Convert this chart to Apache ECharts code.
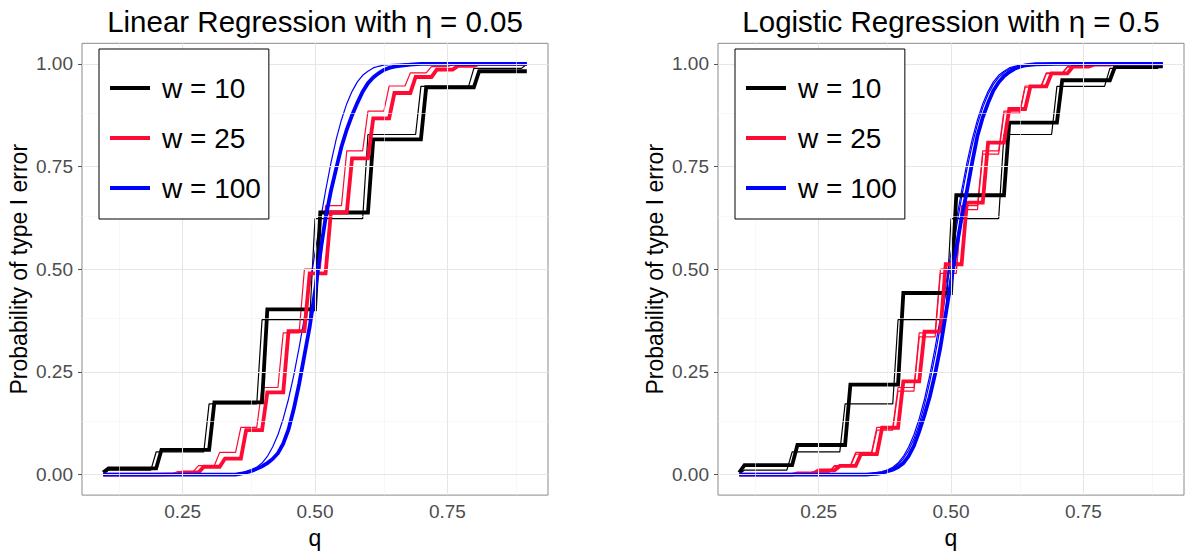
<!DOCTYPE html>
<html>
<head>
<meta charset="utf-8">
<script src="https://cdn.jsdelivr.net/npm/echarts@6/dist/echarts.min.js"></script>
<style>
  html, body { margin: 0; padding: 0; background: #fff; }
  #chart { width: 1185px; height: 554px; }
</style>
</head>
<body>
<div id="chart"></div>
<script>
// ---- axis ticks, labels and titles ----
const panelTitles = ['Linear Regression with \u03b7 = 0.05', 'Logistic Regression with \u03b7 = 0.5'];
const legendNames = ['w = 10', 'w = 25', 'w = 100'];
const qMajor = [0.25, 0.5, 0.75];
const qMinor = [0.125, 0.375, 0.625, 0.875];
const pMajor = [0, 0.25, 0.5, 0.75, 1];
const pMinor = [0.125, 0.375, 0.625, 0.875];
const xTitle = 'q';
const yTitle = 'Probability of type I error';

// ---- reference curves (thin lines), shared by both panels ----
const refW10 = [[0.10,0.001],[0.11,0.011],[0.19,0.011],[0.20,0.055],[0.29,0.055],[0.30,0.172],[0.39,0.172],[0.40,0.377],[0.49,0.377],[0.50,0.623],[0.59,0.623],[0.60,0.828],[0.69,0.828],[0.70,0.945],[0.79,0.945],[0.80,0.989],[0.89,0.989],[0.90,0.999]];
const refW25 = [[0.10,0.000],[0.19,0.0005],[0.20,0.002],[0.23,0.002],[0.24,0.007],[0.27,0.007],[0.28,0.022],[0.31,0.022],[0.32,0.054],[0.35,0.054],[0.36,0.115],[0.39,0.115],[0.40,0.212],[0.43,0.212],[0.44,0.345],[0.47,0.345],[0.48,0.500],[0.51,0.500],[0.52,0.655],[0.55,0.655],[0.56,0.788],[0.59,0.788],[0.60,0.885],[0.63,0.885],[0.64,0.946],[0.67,0.946],[0.68,0.978],[0.71,0.978],[0.72,0.993],[0.75,0.993],[0.76,0.998],[0.79,0.998],[0.80,1.000],[0.90,1.000]];
const refW100 = [[0.10,0.000],[0.30,0.000],[0.33,0.0004],[0.34,0.001],[0.35,0.002],[0.36,0.003],[0.37,0.006],[0.38,0.011],[0.39,0.018],[0.40,0.028],[0.41,0.044],[0.42,0.067],[0.43,0.097],[0.44,0.136],[0.45,0.184],[0.46,0.242],[0.47,0.309],[0.48,0.382],[0.49,0.460],[0.50,0.540],[0.51,0.618],[0.52,0.691],[0.53,0.758],[0.54,0.816],[0.55,0.864],[0.56,0.903],[0.57,0.933],[0.58,0.956],[0.59,0.972],[0.60,0.982],[0.61,0.990],[0.62,0.994],[0.63,0.997],[0.64,0.998],[0.65,0.999],[0.67,1.000],[0.90,1.000]];

// ---- linear regression, eta = 0.05 (thick lines) ----
const linW10 = [[0.10,0.005],[0.11,0.015],[0.20,0.015],[0.21,0.060],[0.30,0.060],[0.31,0.176],[0.40,0.176],[0.41,0.402],[0.50,0.402],[0.51,0.638],[0.60,0.638],[0.61,0.816],[0.70,0.816],[0.71,0.943],[0.80,0.943],[0.81,0.982],[0.90,0.982]];
const linW25 = [[0.10,0.000],[0.20,0.000],[0.24,0.001],[0.25,0.005],[0.28,0.005],[0.29,0.019],[0.32,0.019],[0.33,0.039],[0.36,0.039],[0.37,0.108],[0.40,0.108],[0.41,0.200],[0.44,0.200],[0.45,0.349],[0.48,0.349],[0.49,0.490],[0.52,0.490],[0.53,0.638],[0.56,0.638],[0.57,0.770],[0.60,0.770],[0.61,0.867],[0.64,0.867],[0.65,0.929],[0.68,0.929],[0.69,0.968],[0.72,0.968],[0.73,0.986],[0.76,0.986],[0.77,0.995],[0.80,0.995],[0.81,1.000],[0.90,1.000]];
const linW100 = [[0.10,0.000],[0.35,0.000],[0.36,0.002],[0.37,0.005],[0.38,0.009],[0.39,0.014],[0.40,0.020],[0.41,0.028],[0.42,0.038],[0.43,0.052],[0.44,0.075],[0.45,0.110],[0.46,0.160],[0.47,0.220],[0.48,0.290],[0.49,0.360],[0.50,0.446],[0.51,0.540],[0.52,0.625],[0.53,0.690],[0.54,0.745],[0.55,0.798],[0.56,0.840],[0.57,0.875],[0.58,0.905],[0.59,0.932],[0.60,0.953],[0.61,0.967],[0.62,0.977],[0.63,0.985],[0.64,0.990],[0.65,0.993],[0.66,0.995],[0.68,0.998],[0.70,1.000],[0.90,1.000]];

// ---- logistic regression, eta = 0.5 (thick lines) ----
const logW10 = [[0.10,0.005],[0.11,0.023],[0.20,0.023],[0.21,0.072],[0.30,0.072],[0.31,0.219],[0.40,0.219],[0.41,0.442],[0.50,0.442],[0.51,0.680],[0.60,0.680],[0.61,0.857],[0.70,0.857],[0.71,0.960],[0.80,0.960],[0.81,0.994],[0.90,0.994]];
const logW25 = [[0.10,0.000],[0.20,0.000],[0.21,0.003],[0.24,0.003],[0.25,0.010],[0.28,0.010],[0.29,0.021],[0.32,0.021],[0.33,0.050],[0.36,0.050],[0.37,0.114],[0.40,0.114],[0.41,0.227],[0.44,0.227],[0.45,0.348],[0.48,0.348],[0.49,0.512],[0.52,0.512],[0.53,0.662],[0.56,0.662],[0.57,0.808],[0.60,0.808],[0.61,0.890],[0.64,0.890],[0.65,0.945],[0.68,0.945],[0.69,0.977],[0.72,0.977],[0.73,0.993],[0.76,0.993],[0.77,0.998],[0.80,0.998],[0.81,1.000],[0.90,1.000]];
const logW100 = [[0.10,0.000],[0.34,0.000],[0.35,0.001],[0.36,0.002],[0.37,0.004],[0.38,0.008],[0.39,0.012],[0.40,0.018],[0.41,0.028],[0.42,0.045],[0.43,0.070],[0.44,0.105],[0.45,0.145],[0.46,0.190],[0.47,0.245],[0.48,0.310],[0.49,0.390],[0.50,0.470],[0.51,0.550],[0.52,0.625],[0.53,0.690],[0.54,0.760],[0.55,0.825],[0.56,0.870],[0.57,0.905],[0.58,0.935],[0.59,0.955],[0.60,0.970],[0.61,0.980],[0.62,0.988],[0.63,0.993],[0.64,0.996],[0.66,0.999],[0.70,1.000],[0.90,1.000]];
// second reference curves in the logistic panel
const logRefW25 = [[0.10,0.000],[0.20,0.002],[0.23,0.002],[0.24,0.006],[0.27,0.006],[0.28,0.020],[0.31,0.020],[0.32,0.050],[0.35,0.050],[0.36,0.108],[0.39,0.108],[0.40,0.203],[0.43,0.203],[0.44,0.335],[0.47,0.335],[0.48,0.490],[0.51,0.490],[0.52,0.645],[0.55,0.645],[0.56,0.780],[0.59,0.780],[0.60,0.880],[0.63,0.880],[0.64,0.943],[0.67,0.943],[0.68,0.976],[0.71,0.976],[0.72,0.992],[0.75,0.992],[0.76,0.998],[0.79,0.998],[0.80,1.000],[0.90,1.000]];
const logRefW100 = [[0.10,0.000],[0.33,0.000],[0.35,0.001],[0.36,0.003],[0.37,0.005],[0.38,0.009],[0.39,0.015],[0.40,0.025],[0.41,0.039],[0.42,0.059],[0.43,0.087],[0.44,0.123],[0.45,0.170],[0.46,0.226],[0.47,0.290],[0.48,0.362],[0.49,0.440],[0.50,0.520],[0.51,0.600],[0.52,0.675],[0.53,0.743],[0.54,0.802],[0.55,0.853],[0.56,0.894],[0.57,0.926],[0.58,0.950],[0.59,0.967],[0.60,0.979],[0.61,0.987],[0.62,0.992],[0.63,0.995],[0.64,0.997],[0.65,0.999],[0.67,1.000],[0.90,1.000]];

const COLORS = { 'w = 10': '#000000', 'w = 25': '#ff0a33', 'w = 100': '#0000ff' };
const FONT = 'Liberation Sans, Arial, Helvetica, sans-serif';

const panels = [
  { left: 82,  titleX: 315, thick: [linW10, linW25, linW100], thin: [[refW10], [refW25], [refW100]] },
  { left: 718, titleX: 951, thick: [logW10, logW25, logW100], thin: [[refW10], [refW25, logRefW25], [refW100, logRefW100]] }
];
const GRID_TOP = 43.3, GRID_H = 455.4, GRID_W = 466;

const grids = [], xAxes = [], yAxes = [], series = [], legends = [], graphics = [];

panels.forEach((p, i) => {
  grids.push({ left: p.left, top: GRID_TOP, width: GRID_W, height: GRID_H, show: true,
    borderColor: '#8a8a8a', borderWidth: 1, backgroundColor: '#ffffff', containLabel: false });
  xAxes.push({
    type: 'value', gridIndex: i, min: 0.06, max: 0.94,
    name: xTitle, nameLocation: 'middle', nameGap: 24,
    nameTextStyle: { fontSize: 23, color: '#000', fontFamily: FONT },
    axisLine: { show: false },
    axisTick: { show: true, length: 4, customValues: qMajor, lineStyle: { color: '#555', width: 1 } },
    axisLabel: { customValues: qMajor, margin: 7, fontSize: 19, color: '#4d4d4d', fontFamily: FONT,
      formatter: v => v.toFixed(2) },
    splitLine: { show: false }
  });
  yAxes.push({
    type: 'value', gridIndex: i, min: -0.05, max: 1.05,
    name: yTitle, nameLocation: 'middle', nameRotate: 90, nameGap: 52,
    nameTextStyle: { fontSize: 23, color: '#000', fontFamily: FONT },
    axisLine: { show: false },
    axisTick: { show: true, length: 4, customValues: pMajor, lineStyle: { color: '#555', width: 1 } },
    axisLabel: { customValues: pMajor, margin: 9, fontSize: 19, color: '#4d4d4d', fontFamily: FONT,
      formatter: v => v.toFixed(2) },
    splitLine: { show: false }
  });

  // panel grid lines
  const major = { color: '#e6e6e6', width: 1.1, type: 'solid' };
  const minor = { color: '#f3f3f3', width: 0.6, type: 'solid' };
  series.push({
    type: 'line', name: 'grid' + i, xAxisIndex: i, yAxisIndex: i, data: [], z: 1, silent: true,
    markLine: {
      silent: true, symbol: ['none', 'none'], label: { show: false }, animation: false,
      data: [
        ...qMinor.map(v => ({ xAxis: v, lineStyle: minor })),
        ...pMinor.map(v => ({ yAxis: v, lineStyle: minor })),
        ...qMajor.map(v => ({ xAxis: v, lineStyle: major })),
        ...pMajor.map(v => ({ yAxis: v, lineStyle: major }))
      ]
    }
  });

  legendNames.forEach((name, k) => {
    p.thin[k].forEach((d, j) => {
      series.push({
        type: 'line', name: 'ref ' + name + ' ' + i + j, xAxisIndex: i, yAxisIndex: i, data: d,
        showSymbol: false, symbol: 'none', z: 3, silent: true, animation: false,
        lineStyle: { color: COLORS[name], width: 1.2 }
      });
    });
    series.push({
      type: 'line', name: name, xAxisIndex: i, yAxisIndex: i, data: p.thick[k],
      showSymbol: false, symbol: 'none', z: 4, silent: true, animation: false,
      itemStyle: { color: COLORS[name] },
      lineStyle: { color: COLORS[name], width: 3.8, join: 'miter' }
    });
  });

  legends.push({
    data: legendNames, orient: 'vertical', left: p.left + 17, top: 49,
    icon: 'rect', itemWidth: 40, itemHeight: 4, itemGap: 22,
    padding: [25, 8, 17, 11], borderColor: '#000', borderWidth: 1, backgroundColor: '#fff',
    textStyle: { fontSize: 28, color: '#000', fontFamily: FONT, padding: [0, 0, 0, 7] },
    selectedMode: false, z: 10
  });

  graphics.push({
    type: 'text', x: p.titleX, y: 21, z: 10,
    style: { text: panelTitles[i], font: '29.5px ' + FONT, fill: '#000',
      textAlign: 'center', textVerticalAlign: 'middle' }
  });
});

const chart = echarts.init(document.getElementById('chart'), null, { renderer: 'svg' });
chart.setOption({
  animation: false,
  backgroundColor: '#ffffff',
  grid: grids, xAxis: xAxes, yAxis: yAxes,
  legend: legends, series: series, graphic: graphics
});
</script>
</body>
</html>
